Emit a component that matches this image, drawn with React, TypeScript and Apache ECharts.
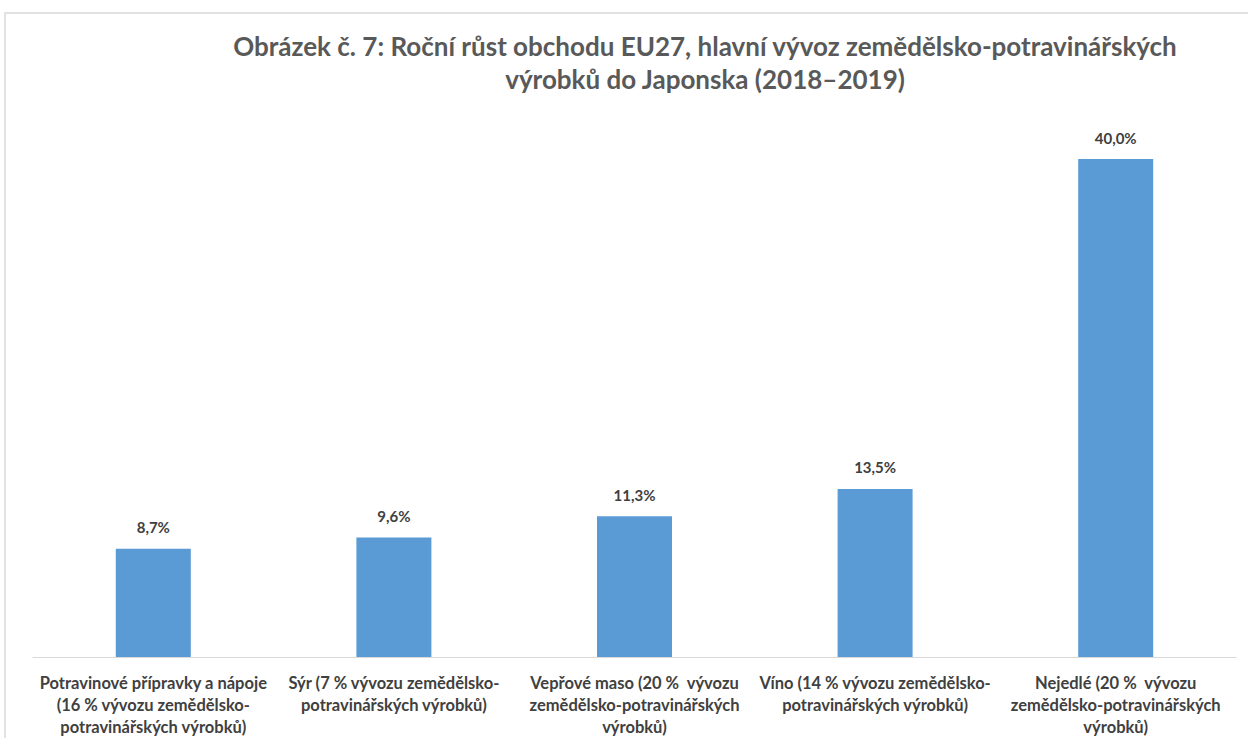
import React, { useEffect, useRef } from "react";
import * as echarts from "echarts";

const titleText =
  "Obrázek č. 7: Roční růst obchodu EU27, hlavní vývoz zemědělsko-potravinářských\nvýrobků do Japonska (2018–2019)";

const categories = [
  "Potravinové přípravky a nápoje\n(16 % vývozu zemědělsko-\npotravinářských výrobků)",
  "Sýr (7 % vývozu zemědělsko-\npotravinářských výrobků)",
  "Vepřové maso (20 %  vývozu\nzemědělsko-potravinářských\nvýrobků)",
  "Víno (14 % vývozu zemědělsko-\npotravinářských výrobků)",
  "Nejedlé (20 %  vývozu\nzemědělsko-potravinářských\nvýrobků)",
];

const growth = [8.7, 9.6, 11.3, 13.5, 40.0];

const FONT = "Lato, 'Open Sans', sans-serif";

export default function App() {
  const ref = useRef<HTMLDivElement>(null);
  useEffect(() => {
    if (!ref.current) return;
    const chart = echarts.init(ref.current, undefined, { renderer: "svg" });
    chart.setOption({
      animation: false,
      backgroundColor: "#ffffff",
      title: {
        text: titleText,
        left: 700,
        textAlign: "center",
        top: 24,
        textStyle: {
          fontFamily: FONT,
          fontWeight: "bold",
          fontSize: 26,
          lineHeight: 33,
          color: "#595959",
        },
      },
      graphic: [
        {
          type: "rect",
          shape: { x: 5, y: 13, width: 1300, height: 800 },
          style: { fill: "none", stroke: "#d9d9d9", lineWidth: 1.5 },
          silent: true,
        },
      ],
      grid: { left: 33, right: 12, top: 159, bottom: 79, containLabel: false },
      xAxis: {
        type: "category",
        data: categories,
        axisLine: { lineStyle: { color: "#d9d9d9", width: 1 } },
        axisTick: { show: false },
        axisLabel: {
          interval: 0,
          margin: 15,
          fontFamily: FONT,
          fontWeight: "bold",
          fontSize: 16.5,
          lineHeight: 22,
          color: "#404040",
          align: "center",
        },
      },
      yAxis: {
        type: "value",
        min: 0,
        max: 40,
        show: false,
        splitLine: { show: false },
      },
      series: [
        {
          type: "bar",
          data: growth,
          barWidth: 75,
          itemStyle: { color: "#5b9bd5" },
          label: {
            show: true,
            position: "top",
            distance: 14,
            formatter: (p: any) => p.value.toFixed(1).replace(".", ",") + "%",
            fontFamily: FONT,
            fontWeight: "bold",
            fontSize: 15,
            color: "#404040",
          },
        },
      ],
    });
    return () => chart.dispose();
  }, []);
  return (
    <div
      ref={ref}
      style={{ position: "absolute", left: 0, top: 0, width: 1248, height: 738 }}
    />
  );
}
